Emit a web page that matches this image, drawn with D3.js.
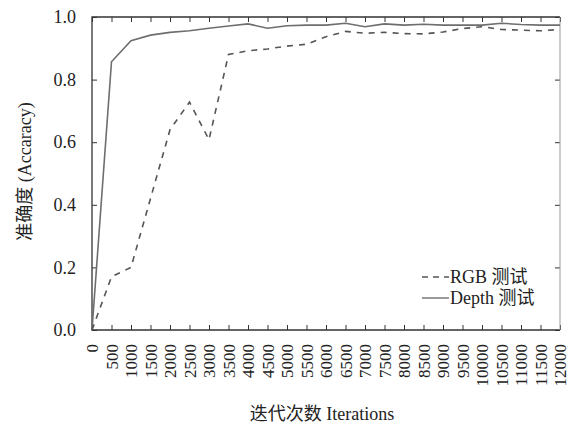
<!DOCTYPE html>
<head>
  <meta charset="utf-8">
  <script src="https://d3js.org/d3.v7.min.js"></script>
  <style>
    body { margin: 0; background: #fff; }
    svg text {
      font-family: 'Times New Roman', 'Liberation Serif', 'DejaVu Serif', 'Noto Sans CJK SC', serif;
      fill: #222;
    }
    .axis path { display: none; }
    .axis line { stroke: #333; }
    .axis text { font-size: 18px; }
    .x.axis text { font-size: 17px; }
    .line { fill: none; }
  </style>
</head>
<body>
  <script>
    // iterations (x) and test accuracy for each input type
    var iterations = [0, 500, 1000, 1500, 2000, 2500, 3000, 3500, 4000, 4500, 5000, 5500, 6000,
                      6500, 7000, 7500, 8000, 8500, 9000, 9500, 10000, 10500, 11000, 11500, 12000];
    var rgbAcc = [0.0, 0.17, 0.2, 0.42, 0.64, 0.728, 0.608, 0.88, 0.892, 0.898, 0.907, 0.913, 0.937,
                  0.954, 0.948, 0.951, 0.947, 0.946, 0.952, 0.963, 0.969, 0.96, 0.958, 0.956, 0.96];
    var depthAcc = [0.0, 0.857, 0.924, 0.942, 0.951, 0.956, 0.964, 0.971, 0.978, 0.964, 0.972, 0.974, 0.974,
                    0.98, 0.969, 0.978, 0.974, 0.977, 0.974, 0.974, 0.974, 0.98, 0.976, 0.974, 0.974];
    var yTicks = [0, 0.2, 0.4, 0.6, 0.8, 1.0];
    var seriesNames = ["RGB 测试", "Depth 测试"];

    var margin = {top: 17, right: 13, bottom: 99, left: 92};
    var width = 573 - margin.left - margin.right;
    var height = 429 - margin.top - margin.bottom;

    var svg = d3.select("body").append("svg")
        .attr("width", 573)
        .attr("height", 429)
      .append("g")
        .attr("transform", "translate(" + margin.left + "," + margin.top + ")");

    var x = d3.scaleLinear().domain([0, 12000]).range([0, width]);
    var y = d3.scaleLinear().domain([0, 1]).range([height, 0]);

    // ticks point inward on all four sides
    svg.append("g")
        .attr("class", "y axis")
        .call(d3.axisLeft(y).tickValues(yTicks).tickFormat(d3.format(".1f"))
          .tickSizeInner(-5).tickSizeOuter(0).tickPadding(16));

    svg.append("g")
        .attr("class", "y axis")
        .attr("transform", "translate(" + width + ",0)")
        .call(d3.axisRight(y).tickValues(yTicks).tickFormat("")
          .tickSizeInner(-5).tickSizeOuter(0));

    svg.append("g")
        .attr("class", "x axis")
        .call(d3.axisTop(x).tickValues(iterations).tickFormat("")
          .tickSizeInner(-5).tickSizeOuter(0));

    var xAxis = svg.append("g")
        .attr("class", "x axis")
        .attr("transform", "translate(0," + height + ")")
        .call(d3.axisBottom(x).tickValues(iterations).tickFormat(d3.format("d"))
          .tickSizeInner(-5).tickSizeOuter(0));

    xAxis.selectAll("text")
        .attr("transform", "rotate(-90)")
        .attr("text-anchor", "end")
        .attr("x", -14)
        .attr("y", 0)
        .attr("dy", "0.33em");

    // frame
    svg.append("path")
        .attr("d", "M" + width + ",0H0V" + height + "H" + width)
        .attr("fill", "none")
        .attr("stroke", "#333")
        .attr("stroke-width", 1.3);
    svg.append("line")
        .attr("x1", width).attr("x2", width)
        .attr("y1", 0).attr("y2", height)
        .attr("stroke", "#999");

    var line = d3.line()
        .x(function(d) { return x(d[0]); })
        .y(function(d) { return y(d[1]); });

    svg.append("path")
        .datum(d3.zip(iterations, depthAcc))
        .attr("class", "line")
        .attr("stroke", "#6e6e6e")
        .attr("stroke-width", 1.6)
        .attr("d", line);

    svg.append("path")
        .datum(d3.zip(iterations, rgbAcc))
        .attr("class", "line")
        .attr("stroke", "#555")
        .attr("stroke-width", 1.6)
        .attr("stroke-dasharray", "6,6")
        .attr("d", line);

    // legend
    var legend = svg.append("g")
        .attr("transform", "translate(" + (width - 138) + "," + (height - 53) + ")");
    var styles = [{stroke: "#555", dash: "6,5"}, {stroke: "#6e6e6e", dash: null}];
    seriesNames.forEach(function(name, i) {
      var row = legend.append("g").attr("transform", "translate(0," + (i * 21) + ")");
      row.append("line")
          .attr("x1", 0).attr("x2", 27)
          .attr("stroke", styles[i].stroke)
          .attr("stroke-width", 1.4)
          .attr("stroke-dasharray", styles[i].dash);
      row.append("text")
          .attr("x", 28)
          .attr("dy", "0.35em")
          .style("font-size", "18px")
          .text(name);
    });

    // axis titles
    svg.append("text")
        .attr("transform", "rotate(-90)")
        .attr("x", -height / 2 + 2)
        .attr("y", -61)
        .attr("text-anchor", "middle")
        .style("font-size", "18px")
        .text("准确度 (Accaracy)");

    svg.append("text")
        .attr("x", width / 2 - 4)
        .attr("y", height + 90)
        .attr("text-anchor", "middle")
        .style("font-size", "18px")
        .text("迭代次数 Iterations");
  </script>
</body>
